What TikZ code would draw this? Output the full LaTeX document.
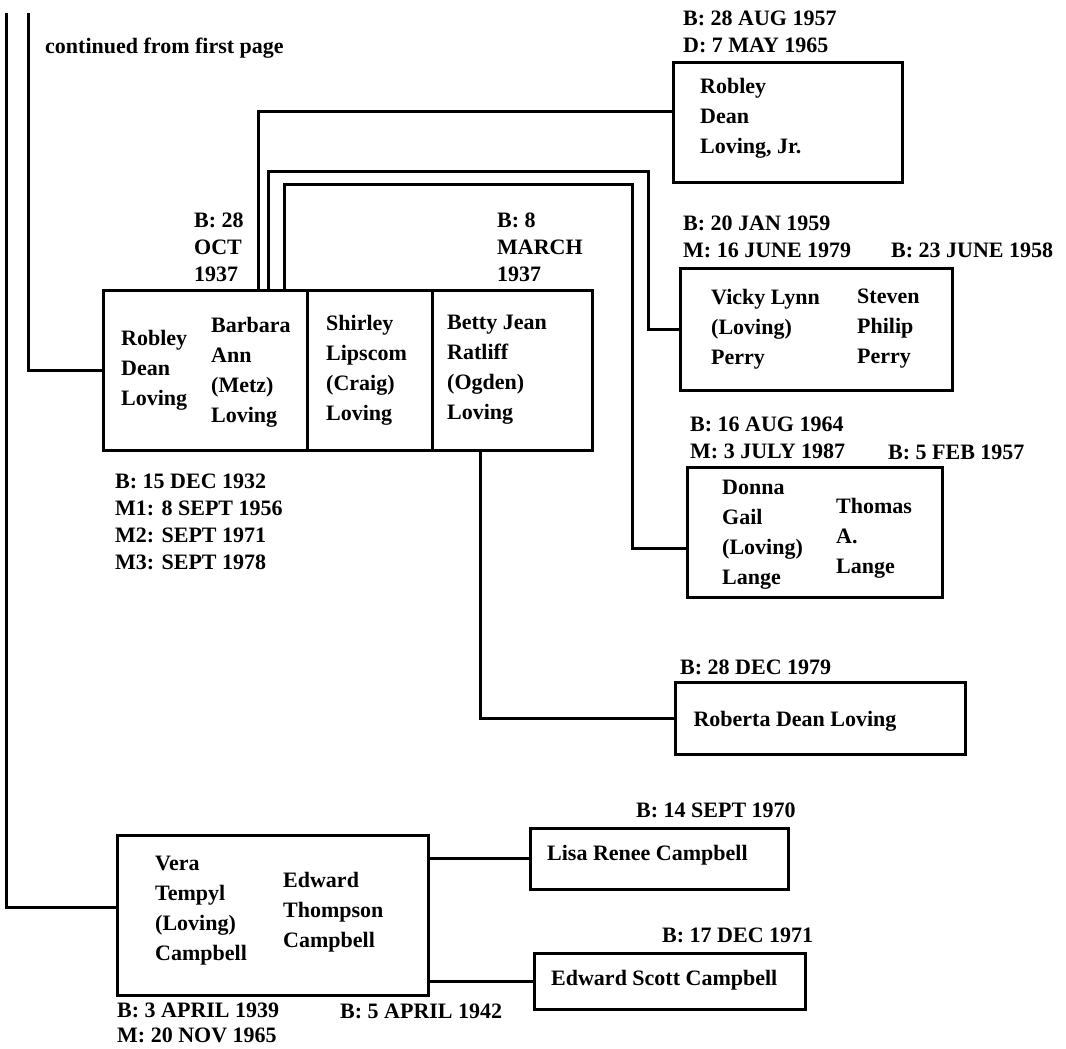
\documentclass[tikz,border=0pt]{standalone}
\usepackage{fontspec}
\setmainfont{Liberation Serif}
\usetikzlibrary{calc}

\tikzset{
  fambox/.style={draw, line width=3pt, inner sep=0pt},
  link/.style={line width=3pt},
  nametext/.style={anchor=west, align=left, inner sep=0pt, font=\bfseries\fontsize{22}{30}\selectfont},
  datetext/.style={anchor=west, align=left, inner sep=0pt, font=\bfseries\fontsize{22}{27}\selectfont}
}

\begin{document}
\begin{tikzpicture}[x=1pt, y=-1pt]
  \useasboundingbox (0,0) rectangle (1066,1049);

  % family boxes
  \node[fambox, minimum width=204pt, minimum height=160pt] (couple) at (205,370) {};
  \node[fambox, minimum width=125pt, minimum height=160pt] (shirley) at (369.5,370) {};
  \node[fambox, minimum width=160pt, minimum height=160pt] (betty) at (512,370) {};
  \node[fambox, minimum width=229pt, minimum height=119pt] (jr) at (787.5,122.5) {};
  \node[fambox, minimum width=272pt, minimum height=122pt] (vicky) at (816,329) {};
  \node[fambox, minimum width=255pt, minimum height=130pt] (donna) at (814.5,532) {};
  \node[fambox, minimum width=290pt, minimum height=72pt] (roberta) at (820,718) {};
  \node[fambox, minimum width=311pt, minimum height=160pt] (vera) at (272.5,915) {};
  \node[fambox, minimum width=258pt, minimum height=61pt] (lisa) at (659,858.5) {};
  \node[fambox, minimum width=271pt, minimum height=56pt] (edward) at (669.5,981) {};

  % lines coming from the first page
  \coordinate (topA) at (6,13);
  \coordinate (topB) at (28,13);
  \draw[link] (topB) |- (couple.west);
  \draw[link] (topA) |- ([yshift=8pt]vera.west);

  % children
  \draw[link] (couple.north -| 258,0) |- ([yshift=11pt]jr.west);
  \draw[link] (couple.north -| 268,0) |- (648,171) |- (vicky.west);
  \draw[link] (couple.north -| 284,0) |- (632,184) |- ([yshift=-16pt]donna.west);
  \draw[link] (betty.south -| 480,0) |- (roberta.west);
  \draw[link] (vera.east |- lisa.west) -- (lisa.west);
  \draw[link] (vera.east |- edward.west) -- (edward.west);

  \node[nametext] (cont) at (45,48) {continued from first page};

  % names
  \node[nametext] (robley) at (121,370) {Robley\\Dean\\Loving};
  \node[nametext] (barbara) at (211,372) {Barbara\\Ann\\(Metz)\\Loving};
  \node[nametext] (shirleyname) at (326,370) {Shirley\\Lipscom\\(Craig)\\Loving};
  \node[nametext] (bettyname) at (447,370) {Betty Jean\\Ratliff\\(Ogden)\\Loving};
  \node[nametext] (jrname) at (700,118) {Robley\\Dean\\Loving, Jr.};
  \node[nametext] (vickyname) at (711,329) {Vicky Lynn\\(Loving)\\Perry};
  \node[nametext] (steven) at (857,329) {Steven\\Philip\\Perry};
  \node[nametext] (donnaname) at (722,535) {Donna\\Gail\\(Loving)\\Lange};
  \node[nametext] (thomas) at (836,538) {Thomas\\A.\\Lange};
  \node[nametext, anchor=center] (robertaname) at (795,721) {Roberta Dean Loving};
  \node[nametext] (veraname) at (155,911) {Vera\\Tempyl\\(Loving)\\Campbell};
  \node[nametext] (edwardsr) at (283,912) {Edward\\Thompson\\Campbell};
  \node[nametext] (lisaname) at (547,855) {Lisa Renee Campbell};
  \node[nametext] (edwardname) at (551,980) {Edward Scott Campbell};

  % dates
  \node[datetext] (bbarbara) at (194,247) {B: 28\\OCT\\1937};
  \node[datetext] (bbetty) at (497,247) {B: 8\\MARCH\\1937};
  \node[datetext] (brobley) at (115,522) {B: 15 DEC 1932\\M1: 8 SEPT 1956\\M2: SEPT 1971\\M3: SEPT 1978};
  \node[datetext] (bjr) at (683,32) {B: 28 AUG 1957\\D: 7 MAY 1965};
  \node[datetext] (bvicky) at (683,237) {B: 20 JAN 1959\\M: 16 JUNE 1979};
  \node[datetext] (bsteven) at (891,250) {B: 23 JUNE 1958};
  \node[datetext] (bdonna) at (690,438) {B: 16 AUG 1964\\M: 3 JULY 1987};
  \node[datetext] (bthomas) at (888,452) {B: 5 FEB 1957};
  \node[datetext] (broberta) at (680,667) {B: 28 DEC 1979};
  \node[datetext] (blisa) at (636,810) {B: 14 SEPT 1970};
  \node[datetext] (bedward) at (662,935) {B: 17 DEC 1971};
  \node[datetext, font=\bfseries\fontsize{22}{25}\selectfont] (bvera) at (117,1023) {B: 3 APRIL 1939\\M: 20 NOV 1965};
  \node[datetext] (bedsr) at (340,1011) {B: 5 APRIL 1942};
\end{tikzpicture}
\end{document}
